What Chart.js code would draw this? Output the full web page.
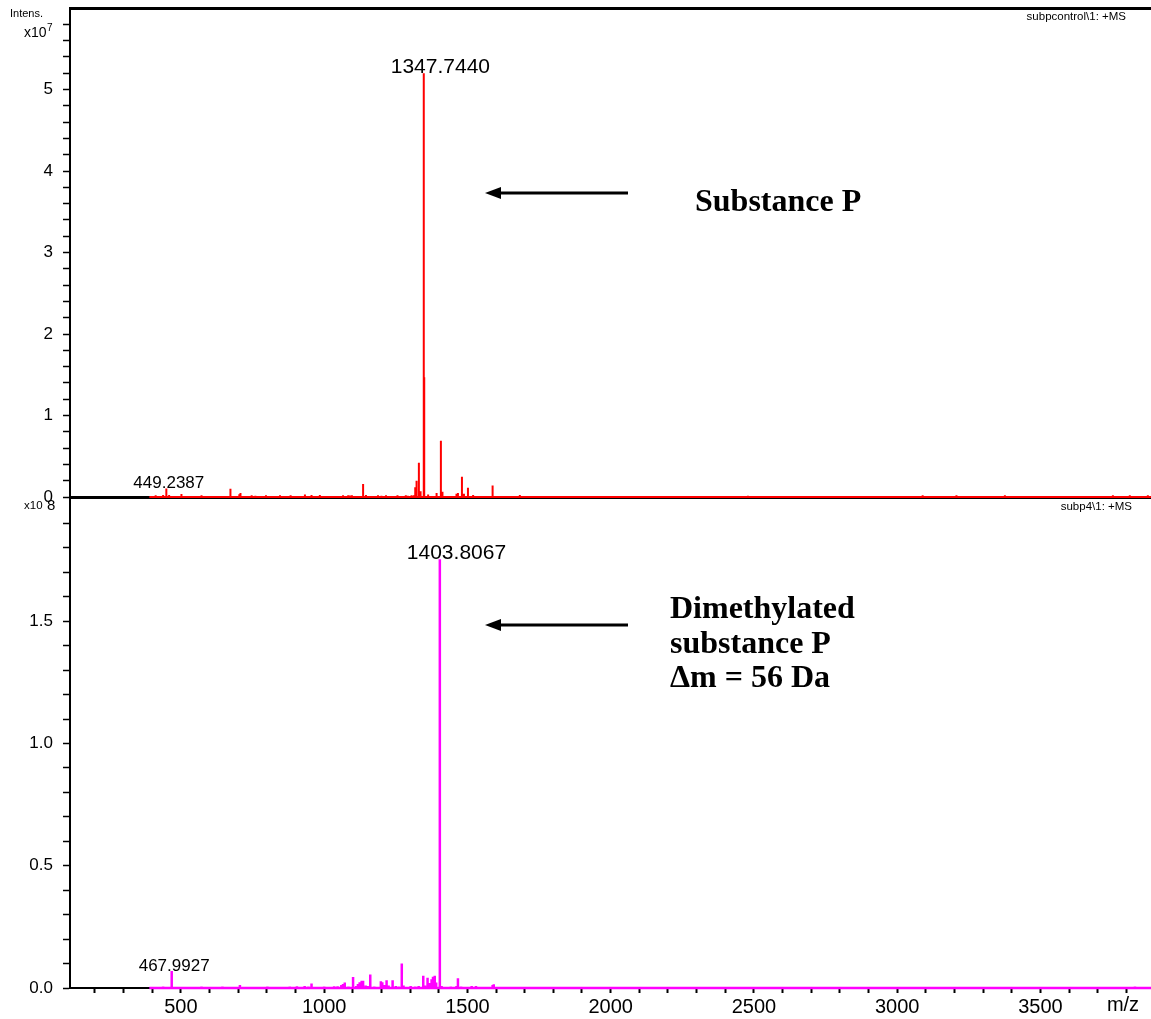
<!DOCTYPE html>
<html>
<head>
<meta charset="utf-8">
<title>subpcontrol / subp4 +MS</title>
<script src="https://cdn.jsdelivr.net/npm/chart.js@4.4.1/dist/chart.umd.min.js"></script>
<style>
  html, body { margin: 0; padding: 0; background: #fff; }
  #wrap { position: relative; width: 1151px; height: 1019px; }
  #wrap canvas { position: absolute; left: 0; top: 0; }
</style>
</head>
<body>
<div id="wrap">
  <canvas id="controlChart" width="1151" height="1019"></canvas>
  <canvas id="dimethylChart" width="1151" height="1019"></canvas>
</div>
<script>
// ── Spectrum data ─────────────────────────────────────────────────────
// m/z axis window and acquired scan range
const mzWindow  = [113, 3886];
const scanRange = [390, 3886];
const xTickLabels = [500, 1000, 1500, 2000, 2500, 3000, 3500];
const xMinorStep  = 100;

// subpcontrol\1: +MS   (intensity x10^7)
const controlMz = [
  412, 438, 449.2387, 459, 502, 530, 572, 610, 640, 673, 704, 708, 730, 747, 760,
  797, 820, 846, 870, 883, 910, 933, 956, 985, 1010, 1040, 1066, 1084, 1090, 1097,
  1136, 1146, 1188, 1200, 1216, 1256, 1285, 1292, 1305, 1313, 1318, 1322.6, 1330.7,
  1336.6, 1347.7440, 1348.75, 1349.75, 1363, 1392.5, 1407.5, 1413, 1462, 1467, 1481,
  1488, 1502, 1520, 1588, 1683, 1780, 2479, 3089, 3207, 3376, 3753, 3812, 3875,
];
const controlIntens = [
  0.02, 0.025, 0.105, 0.025, 0.037, 0.01, 0.02, 0.01, 0.012, 0.10, 0.035, 0.05, 0.012, 0.02, 0.015,
  0.02, 0.01, 0.02, 0.012, 0.02, 0.012, 0.03, 0.025, 0.025, 0.012, 0.01, 0.02, 0.02, 0.018, 0.02,
  0.16, 0.025, 0.02, 0.015, 0.02, 0.02, 0.02, 0.015, 0.02, 0.02, 0.12, 0.20, 0.42,
  0.07, 5.20, 1.47, 0.35, 0.03, 0.05, 0.69, 0.065, 0.04, 0.05, 0.25,
  0.04, 0.115, 0.025, 0.14, 0.025, 0.008, 0.015, 0.02, 0.02, 0.02, 0.02, 0.02, 0.02,
];
const controlLabelled = [449.2387, 1347.7440];
const controlTicks    = [0, 1, 2, 3, 4, 5];

// subp4\1: +MS   (intensity x10^8)
const dimethylMz = [
  418, 438, 467.9927, 520, 572, 600, 645, 660, 677, 706, 723, 735, 748, 762, 780,
  802, 828, 880, 893, 905, 918, 932, 945, 956, 985, 1000, 1020, 1035, 1047, 1060,
  1066, 1072, 1085, 1101, 1112, 1118, 1124, 1131, 1136, 1145, 1152, 1161, 1175, 1188,
  1198, 1203, 1210, 1218, 1225, 1239, 1250, 1260, 1271, 1277, 1290, 1302, 1318, 1330,
  1346, 1352, 1361, 1368, 1375, 1380, 1386, 1391, 1403.8067, 1410, 1425, 1442, 1462,
  1467, 1478, 1500, 1515, 1530, 1560, 1588, 1592, 1700, 3366, 3647, 3830, 3856,
];
const dimethylIntens = [
  0.004, 0.006, 0.07, 0.004, 0.006, 0.004, 0.006, 0.004, 0.005, 0.012, 0.004, 0.005, 0.005, 0.004, 0.004,
  0.006, 0.005, 0.006, 0.005, 0.007, 0.005, 0.008, 0.006, 0.018, 0.005, 0.006, 0.005, 0.007, 0.007, 0.012,
  0.016, 0.022, 0.006, 0.045, 0.008, 0.016, 0.024, 0.03, 0.03, 0.01, 0.008, 0.055, 0.006, 0.005,
  0.028, 0.024, 0.012, 0.032, 0.01, 0.032, 0.008, 0.006, 0.10, 0.01, 0.005, 0.008, 0.006, 0.008,
  0.05, 0.01, 0.042, 0.02, 0.036, 0.046, 0.05, 0.022, 1.754, 0.008, 0.005, 0.006, 0.008,
  0.04, 0.006, 0.005, 0.008, 0.008, 0.004, 0.012, 0.015, 0.003, 0.004, 0.004, 0.006, 0.005,
];
const dimethylLabelled = [467.9927, 1403.8067];
const dimethylTicks    = [0.0, 0.5, 1.0, 1.5];

// ── Helpers ───────────────────────────────────────────────────────────
const SANS  = '"Liberation Sans", Arial, sans-serif';
const SERIF = '"Liberation Serif", "Times New Roman", serif';

// stick spectrum: every peak rises from and falls back to the baseline
function sticks(mz, intens, range) {
  const pts = [{ x: range[0], y: 0 }];
  mz.forEach((m, i) => {
    pts.push({ x: m, y: 0 }, { x: m, y: intens[i] }, { x: m, y: 0 });
  });
  pts.push({ x: range[1], y: 0 });
  return pts;
}

function minorTicks(step, count) {
  const out = [];
  for (let i = 0; i < count; i++) out.push({ value: Math.round(i * step * 1000) / 1000 });
  return out;
}

function labelPeaks(chart, mz, intens, labelled) {
  const { ctx, scales } = chart;
  const top = Math.max(...intens);
  ctx.save();
  ctx.fillStyle = '#000';
  ctx.textAlign = 'left';
  ctx.textBaseline = 'alphabetic';
  labelled.forEach(v => {
    const i  = mz.indexOf(v);
    const px = scales.x.getPixelForValue(v);
    const py = scales.y.getPixelForValue(intens[i]);
    ctx.font = (intens[i] === top ? 21 : 17) + 'px ' + SANS;
    ctx.fillText(v.toFixed(4), px - 33, py);
  });
  ctx.restore();
}

function drawArrow(ctx, xFrom, xTip, y) {
  ctx.save();
  ctx.strokeStyle = '#000';
  ctx.fillStyle = '#000';
  ctx.lineWidth = 3;
  ctx.beginPath();
  ctx.moveTo(xFrom, y);
  ctx.lineTo(xTip + 12, y);
  ctx.stroke();
  ctx.beginPath();
  ctx.moveTo(xTip, y);
  ctx.lineTo(xTip + 16, y - 6);
  ctx.lineTo(xTip + 16, y + 6);
  ctx.closePath();
  ctx.fill();
  ctx.restore();
}

function text(ctx, str, x, y, font, align) {
  ctx.font = font;
  ctx.textAlign = align || 'left';
  ctx.fillStyle = '#000';
  ctx.fillText(str, x, y);
}

// shared axis setup; the y axis is pinned to 70px wide with no label overhang
function yAxis(max, step, count, labels, fmt) {
  return {
    min: 0,
    max,
    afterBuildTicks: s => { s.ticks = minorTicks(step, count); },
    afterFit: s => { s.width = 70; s.paddingTop = 0; s.paddingBottom = 0; },
    ticks: {
      color: '#000',
      padding: 10,
      autoSkip: false,
      font: { family: SANS, size: 17 },
      callback: v => labels.some(l => Math.abs(l - v) < 1e-6) ? fmt(v) : '',
    },
    grid: { drawOnChartArea: false, tickLength: 7, tickColor: '#000', tickWidth: 1.5 },
    border: { display: true, color: '#000', width: 2 },
  };
}

function xTicks() {
  const out = [];
  for (let v = 200; v <= 3800; v += xMinorStep) out.push({ value: v });
  return out;
}

// ── Control spectrum (top) ────────────────────────────────────────────
new Chart(document.getElementById('controlChart'), {
  type: 'line',
  data: {
    datasets: [{
      data: sticks(controlMz, controlIntens, scanRange),
      borderColor: '#ff0000',
      borderWidth: 2,
      borderJoinStyle: 'bevel',
      pointRadius: 0,
      tension: 0,
      fill: false,
      clip: false,
    }],
  },
  options: {
    responsive: false,
    animation: false,
    layout: { padding: { top: 8, right: 0, bottom: 522, left: 0 } },
    plugins: { legend: { display: false }, tooltip: { enabled: false } },
    scales: {
      x: {
        type: 'linear', position: 'bottom', min: mzWindow[0], max: mzWindow[1],
        afterFit: s => { s.height = 0; s.paddingLeft = 0; s.paddingRight = 0; },
        ticks: { display: false },
        grid: { display: false },
        border: { display: true, color: '#000', width: 3 },
      },
      xTop: {
        type: 'linear', position: 'top', min: mzWindow[0], max: mzWindow[1],
        afterFit: s => { s.height = 0; s.paddingLeft = 0; s.paddingRight = 0; },
        ticks: { display: false },
        grid: { display: false },
        border: { display: true, color: '#000', width: 3 },
      },
      y: yAxis(6, 0.2, 30, controlTicks, v => String(Math.round(v))),
    },
  },
  plugins: [{
    id: 'controlNotes',
    afterDatasetsDraw(chart) {
      const ctx = chart.ctx;
      ctx.save();
      text(ctx, 'Intens.', 10, 17, '11px ' + SANS);
      text(ctx, 'x10', 24, 37, '14px ' + SANS);
      text(ctx, '7', 47, 31, '10px ' + SANS);
      text(ctx, 'subpcontrol\\1: +MS', 1126, 20, '11.5px ' + SANS, 'right');
      text(ctx, 'Substance P', 695, 211, 'bold 32px ' + SERIF);
      ctx.restore();
      drawArrow(ctx, 628, 485, 193);
      labelPeaks(chart, controlMz, controlIntens, controlLabelled);
    },
  }],
});

// ── Dimethylated spectrum (bottom) ────────────────────────────────────
new Chart(document.getElementById('dimethylChart'), {
  type: 'line',
  data: {
    datasets: [{
      data: sticks(dimethylMz, dimethylIntens, scanRange),
      borderColor: '#ff00ff',
      borderWidth: 2.5,
      borderJoinStyle: 'bevel',
      pointRadius: 0,
      tension: 0,
      fill: false,
      clip: false,
    }],
  },
  options: {
    responsive: false,
    animation: false,
    layout: { padding: { top: 499, right: 0, bottom: 0, left: 0 } },
    plugins: { legend: { display: false }, tooltip: { enabled: false } },
    scales: {
      x: {
        type: 'linear', position: 'bottom', min: mzWindow[0], max: mzWindow[1],
        afterBuildTicks: s => { s.ticks = xTicks(); },
        afterFit: s => { s.height = 31; s.paddingLeft = 0; s.paddingRight = 0; },
        ticks: {
          color: '#000',
          padding: 2,
          maxRotation: 0,
          autoSkip: false,
          font: { family: SANS, size: 20 },
          callback: v => xTickLabels.includes(v) ? String(v) : '',
        },
        grid: { drawOnChartArea: false, tickLength: 5, tickColor: '#000', tickWidth: 2 },
        border: { display: true, color: '#000', width: 2 },
      },
      y: yAxis(2.0, 0.1, 20, dimethylTicks, v => v.toFixed(1)),
    },
  },
  plugins: [{
    id: 'dimethylNotes',
    afterDatasetsDraw(chart) {
      const ctx = chart.ctx;
      ctx.save();
      text(ctx, 'x10', 24, 509, '11.5px ' + SANS);
      text(ctx, '8', 47, 510, '15px ' + SANS);
      text(ctx, 'subp4\\1: +MS', 1132, 510, '11.5px ' + SANS, 'right');
      text(ctx, 'm/z', 1123, 1011, '20px ' + SANS, 'center');
      text(ctx, 'Dimethylated', 670, 618, 'bold 32px ' + SERIF);
      text(ctx, 'substance P', 670, 653, 'bold 32px ' + SERIF);
      text(ctx, '\u0394m = 56 Da', 670, 687, 'bold 32px ' + SERIF);
      ctx.restore();
      drawArrow(ctx, 628, 485, 625);
      labelPeaks(chart, dimethylMz, dimethylIntens, dimethylLabelled);
    },
  }],
});
</script>
</body>
</html>
